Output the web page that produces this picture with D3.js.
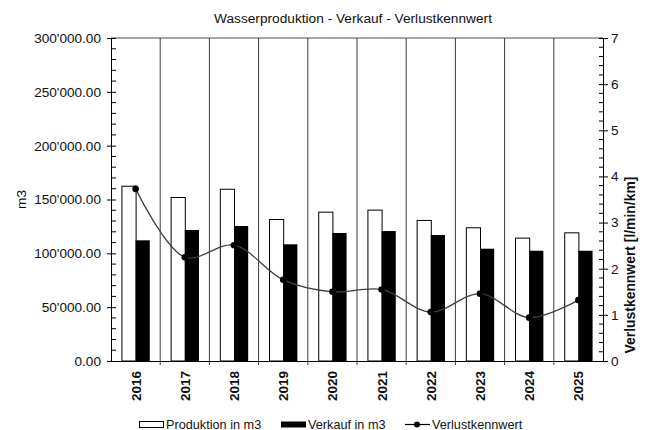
<!DOCTYPE html>
<html>
<head>
<meta charset="utf-8">
<script src="https://cdn.jsdelivr.net/npm/d3@7"></script>
<style>
  body { margin: 0; background: #fff; }
  svg { font-family: "Liberation Sans", Arial, sans-serif; }
</style>
</head>
<body>
<div id="chart"></div>
<script>
const years = ["2016", "2017", "2018", "2019", "2020", "2021", "2022", "2023", "2024", "2025"];
const produktion = [162800, 152300, 160000, 131900, 138700, 140600, 131000, 124200, 114600, 119500];
const verkauf = [112100, 121700, 125400, 108400, 118900, 120700, 117000, 104300, 102400, 102400];
const verlust = [3.73, 2.25, 2.51, 1.76, 1.50, 1.55, 1.06, 1.46, 0.94, 1.32];
const leftTicks = [0, 50000, 100000, 150000, 200000, 250000, 300000];
const rightTicks = [0, 1, 2, 3, 4, 5, 6, 7];

const width = 649, height = 430;
const margin = { top: 38, right: 46, bottom: 69, left: 111 };
const innerW = width - margin.left - margin.right;
const innerH = height - margin.top - margin.bottom;

const svg = d3.select("#chart").append("svg")
  .attr("width", width)
  .attr("height", height);

const g = svg.append("g")
  .attr("transform", `translate(${margin.left},${margin.top})`);

const x = d3.scaleBand().domain(years).range([0, innerW]).padding(0);
const inner = d3.scaleBand().domain(["p", "v"]).range([0, x.bandwidth()]).paddingInner(0).paddingOuter(0.735);
const yL = d3.scaleLinear().domain([0, 300000]).range([innerH, 0]);
const yR = d3.scaleLinear().domain([0, 7]).range([innerH, 0]);

const fmt = v => d3.format(",.2f")(v).replace(/,/g, "'");

// top border
g.append("line")
  .attr("x1", 0).attr("x2", innerW)
  .attr("y1", 0).attr("y2", 0)
  .attr("stroke", "#a6a6a6").attr("stroke-width", 2);

// vertical separators between categories
g.selectAll(".sep")
  .data(years.slice(1))
  .enter().append("line")
  .attr("class", "sep")
  .attr("x1", d => x(d)).attr("x2", d => x(d))
  .attr("y1", 0).attr("y2", innerH + 4)
  .attr("stroke", "#3a3a3a").attr("stroke-width", 1);

// bars
const grp = g.selectAll(".grp")
  .data(years.map((y, i) => ({ year: y, p: produktion[i], v: verkauf[i] })))
  .enter().append("g")
  .attr("class", "grp")
  .attr("transform", d => `translate(${x(d.year)},0)`);

grp.append("rect")
  .attr("x", inner("p") + 0.5)
  .attr("y", d => yL(d.p) + 0.5)
  .attr("width", inner.bandwidth())
  .attr("height", d => innerH - yL(d.p) - 0.5)
  .attr("fill", "#fff")
  .attr("stroke", "#000")
  .attr("stroke-width", 1);

grp.append("rect")
  .attr("x", inner("v"))
  .attr("y", d => yL(d.v))
  .attr("width", inner.bandwidth())
  .attr("height", d => innerH - yL(d.v))
  .attr("fill", "#000");

// line
const line = d3.line()
  .x((d, i) => x(years[i]) + x.bandwidth() / 2)
  .y(d => yR(d))
  .curve(d3.curveCatmullRom.alpha(0.5));

g.append("path")
  .datum(verlust)
  .attr("d", line)
  .attr("fill", "none")
  .attr("stroke", "#404040")
  .attr("stroke-width", 1.3);

g.selectAll(".dot")
  .data(verlust)
  .enter().append("circle")
  .attr("cx", (d, i) => x(years[i]) + x.bandwidth() / 2)
  .attr("cy", d => yR(d))
  .attr("r", 3.3)
  .attr("fill", "#000");

// left axis
const leftAxis = g.append("g");
leftAxis.call(d3.axisLeft(yL).tickValues(leftTicks).tickSize(6).tickSizeOuter(0).tickFormat(fmt))
  .call(a => a.select(".domain").attr("stroke", "#000"))
  .call(a => a.selectAll(".tick line").attr("x2", -4).attr("x1", 5))
  .call(a => a.selectAll("text").attr("x", -10).style("font-size", "13.6px").attr("fill", "#111"));
leftAxis.selectAll(".minor")
  .data(d3.range(0, 300001, 10000).filter(v => v % 50000 !== 0))
  .enter().append("line")
  .attr("x1", 0).attr("x2", 5)
  .attr("y1", d => yL(d)).attr("y2", d => yL(d))
  .attr("stroke", "#000");

// right axis
const rightAxis = g.append("g").attr("transform", `translate(${innerW},0)`);
rightAxis.call(d3.axisRight(yR).tickValues(rightTicks).tickSize(5).tickSizeOuter(0).tickFormat(d3.format("d")))
  .call(a => a.select(".domain").attr("stroke", "#000"))
  .call(a => a.selectAll(".tick line").attr("x1", -4).attr("x2", 5))
  .call(a => a.selectAll("text").attr("x", 8).style("font-size", "13.6px").attr("fill", "#111"));
rightAxis.selectAll(".minor")
  .data(d3.range(1, 35).filter(v => v % 5 !== 0).map(v => v / 5))
  .enter().append("line")
  .attr("x1", -4).attr("x2", 0)
  .attr("y1", d => yR(d)).attr("y2", d => yR(d))
  .attr("stroke", "#000");

// bottom axis
g.append("line")
  .attr("x1", -4).attr("x2", innerW + 4)
  .attr("y1", innerH + 0.5).attr("y2", innerH + 0.5)
  .attr("stroke", "#000");

g.selectAll(".year")
  .data(years)
  .enter().append("text")
  .attr("class", "year")
  .attr("transform", d => `translate(${x(d) + x.bandwidth() / 2 + 5},${innerH + 10}) rotate(-90)`)
  .attr("text-anchor", "end")
  .style("font-size", "13.5px")
  .style("font-weight", "bold")
  .attr("fill", "#111")
  .text(d => d);

// titles
svg.append("text")
  .attr("x", 353).attr("y", 23)
  .attr("text-anchor", "middle")
  .style("font-size", "13.7px")
  .attr("fill", "#111")
  .text("Wasserproduktion - Verkauf - Verlustkennwert");

svg.append("text")
  .attr("transform", `translate(26,${margin.top + innerH / 2}) rotate(-90)`)
  .attr("text-anchor", "middle")
  .style("font-size", "13.6px")
  .attr("fill", "#111")
  .text("m3");

svg.append("text")
  .attr("transform", `translate(635,265) rotate(-90)`)
  .attr("text-anchor", "middle")
  .style("font-size", "13.9px")
  .style("font-weight", "bold")
  .attr("fill", "#111")
  .text("Verlustkennwert [l/min/km]");

// legend
const legend = svg.append("g").attr("transform", "translate(139,424)");
legend.append("rect")
  .attr("x", 0.5).attr("y", -2.5).attr("width", 24).attr("height", 6)
  .attr("fill", "#fff").attr("stroke", "#000");
legend.append("text")
  .attr("x", 27).attr("y", 4.5)
  .style("font-size", "12.7px").attr("fill", "#111")
  .text("Produktion in m3");
legend.append("rect")
  .attr("x", 142).attr("y", -2.5).attr("width", 25).attr("height", 6)
  .attr("fill", "#000");
legend.append("text")
  .attr("x", 169).attr("y", 4.5)
  .style("font-size", "12.7px").attr("fill", "#111")
  .text("Verkauf in m3");
legend.append("line")
  .attr("x1", 266).attr("x2", 291).attr("y1", 0.5).attr("y2", 0.5)
  .attr("stroke", "#000").attr("stroke-width", 1.2);
legend.append("circle")
  .attr("cx", 278).attr("cy", 0.5).attr("r", 3)
  .attr("fill", "#000");
legend.append("text")
  .attr("x", 293).attr("y", 4.5)
  .style("font-size", "12.7px").attr("fill", "#111")
  .text("Verlustkennwert");
</script>
</body>
</html>
